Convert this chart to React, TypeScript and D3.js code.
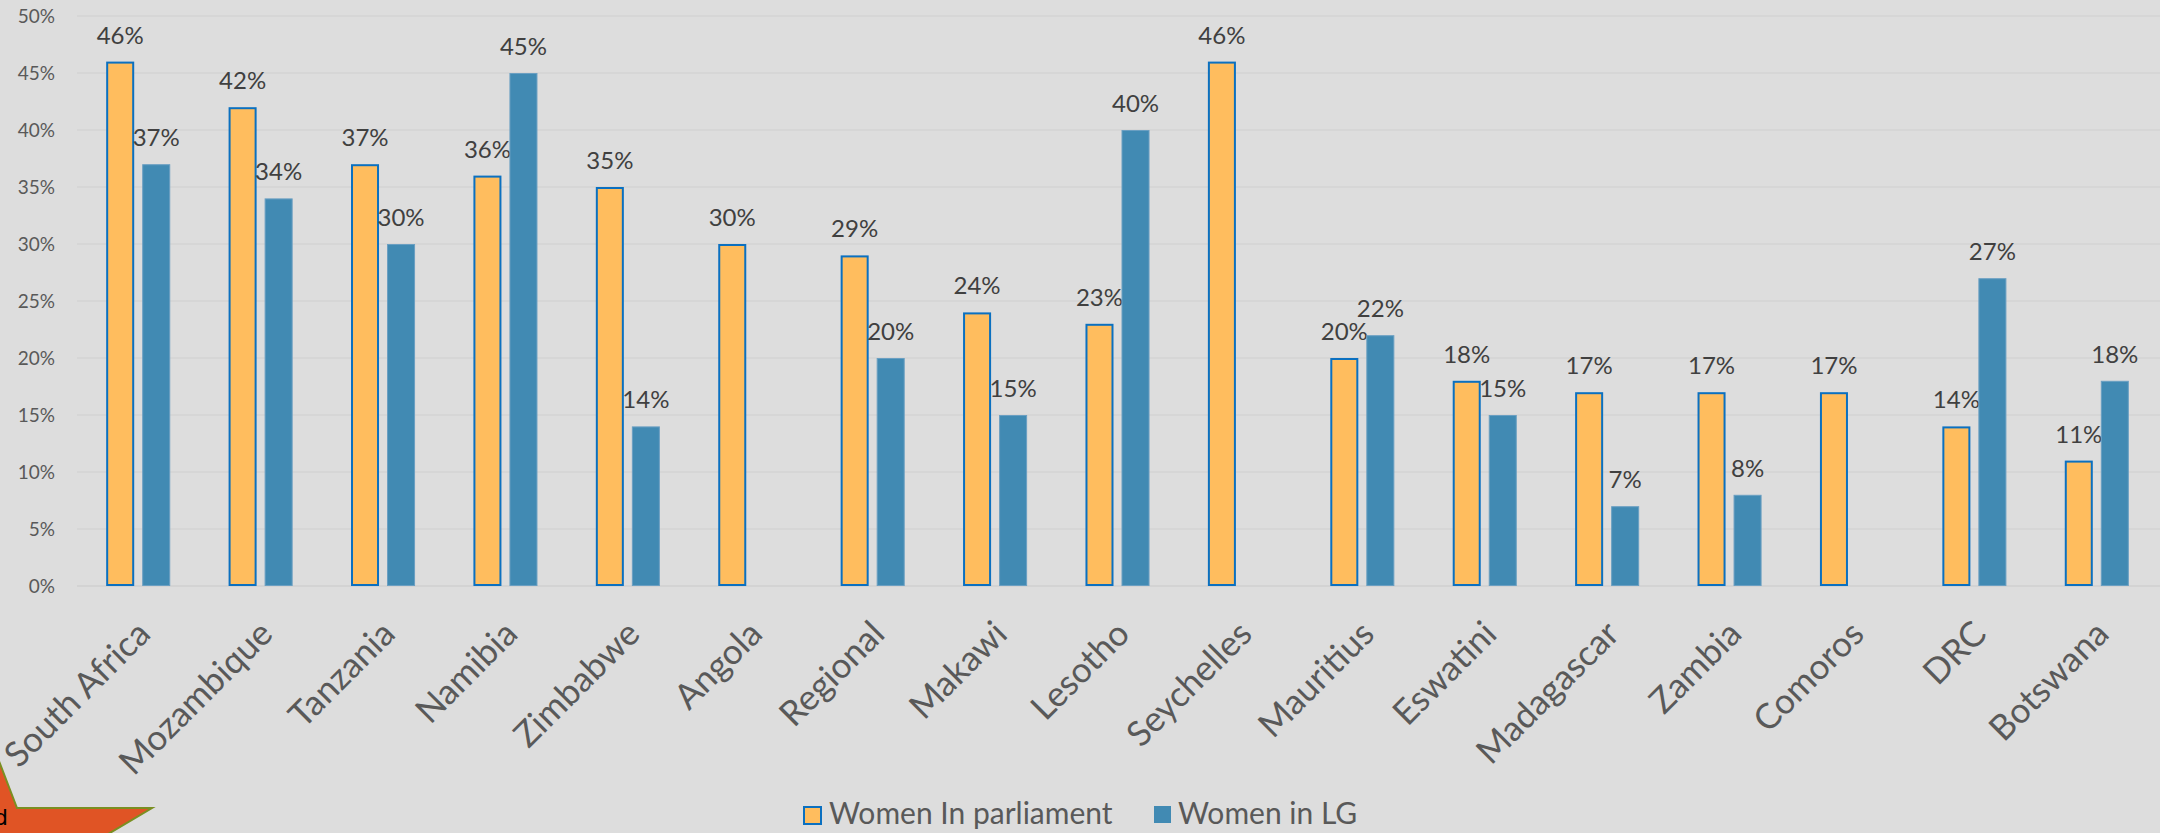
import React from "react";
import * as d3 from "d3";

const categories = ["South Africa", "Mozambique", "Tanzania", "Namibia", "Zimbabwe", "Angola", "Regional", "Makawi", "Lesotho", "Seychelles", "Mauritius", "Eswatini", "Madagascar", "Zambia", "Comoros", "DRC", "Botswana"];
const womenParliament: (number | null)[] = [46, 42, 37, 36, 35, 30, 29, 24, 23, 46, 20, 18, 17, 17, 17, 14, 11];
const womenLG: (number | null)[] = [37, 34, 30, 45, 14, null, 20, 15, 40, null, 22, 15, 7, 8, null, 27, 18];
const seriesNames = ["Women In parliament", "Women in LG"];
const yTicks = [0, 5, 10, 15, 20, 25, 30, 35, 40, 45, 50];

const W = 2160;
const H = 833;
const FONT = "Lato, 'Open Sans', sans-serif";

export default function App() {
  const x = d3.scaleBand<string>().domain(categories).range([77, 2158]).padding(0);
  const inner = d3
    .scaleBand<string>()
    .domain(["p", "lg"])
    .range([0, x.step()])
    .paddingInner(8 / 36)
    .paddingOuter(0.81);
  const y = d3.scaleLinear().domain([0, 50]).range([586, 16]);

  const series = [
    { key: "p", values: womenParliament, fill: "#FFBD5E", stroke: "#0B70C0", sw: 2 },
    { key: "lg", values: womenLG, fill: "#418AB3", stroke: "#6A9FC2", sw: 1 },
  ];

  return (
    <svg
      width={W}
      height={H}
      style={{ position: "fixed", left: 0, top: 0, display: "block" }}
      fontFamily={FONT}
    >
      <rect x={0} y={0} width={W} height={H} fill="#DDDDDD" />
      {/* gridlines */}
      {yTicks.map((t) => (
        <line key={t} x1={77} x2={W} y1={y(t)} y2={y(t)} stroke={t === 0 ? "#CFCFCF" : "#D3D3D3"} strokeWidth={1.5} />
      ))}
      {/* y tick labels */}
      {yTicks.map((t) => (
        <text key={"l" + t} x={55} y={y(t)} dy="0.35em" textAnchor="end" fontSize={19} fill="#595959">
          {t + "%"}
        </text>
      ))}
      {/* bars */}
      {series.map((s) =>
        categories.map((c, i) => {
          const v = s.values[i];
          if (v == null) return null;
          const bx = (x(c) as number) + (inner(s.key) as number);
          const bw = inner.bandwidth();
          const half = s.sw / 2;
          return (
            <g key={s.key + c}>
              <rect
                x={bx + half}
                y={y(v) + half}
                width={bw - s.sw}
                height={y(0) - y(v) - s.sw}
                fill={s.fill}
                stroke={s.stroke}
                strokeWidth={s.sw}
              />
              <text x={bx + bw / 2} y={y(v) - 18} textAnchor="middle" fontSize={24} fill="#404040">
                {v + "%"}
              </text>
            </g>
          );
        })
      )}
      {/* category labels */}
      {categories.map((c) => {
        const cx = (x(c) as number) + x.bandwidth() / 2;
        const ax = cx + 14;
        const ay = 636;
        return (
          <text
            key={"c" + c}
            x={ax}
            y={ay}
            textAnchor="end"
            fontSize={35}
            fill="#595959"
            transform={`rotate(-45 ${ax} ${ay})`}
          >
            {c}
          </text>
        );
      })}
      {/* legend */}
      <g>
        <rect x={804} y={807} width={17} height={17} fill="#FFBD5E" stroke="#0B70C0" strokeWidth={2} />
        <text x={829} y={824} fontSize={30} fill="#595959">{seriesNames[0]}</text>
        <rect x={1154} y={806} width={17} height={17} fill="#418AB3" />
        <text x={1178} y={824} fontSize={30} fill="#595959">{seriesNames[1]}</text>
      </g>
      {/* decorative star shape at bottom-left */}
      <polygon
        points="-11,735 17,808 152,808 98,840 -11,840"
        fill="#E05425"
        stroke="#7A8F22"
        strokeWidth={2}
      />
      <text x={-6} y={825} fontSize={22} fill="#000000" fontFamily="'DejaVu Sans', sans-serif">d</text>
    </svg>
  );
}
